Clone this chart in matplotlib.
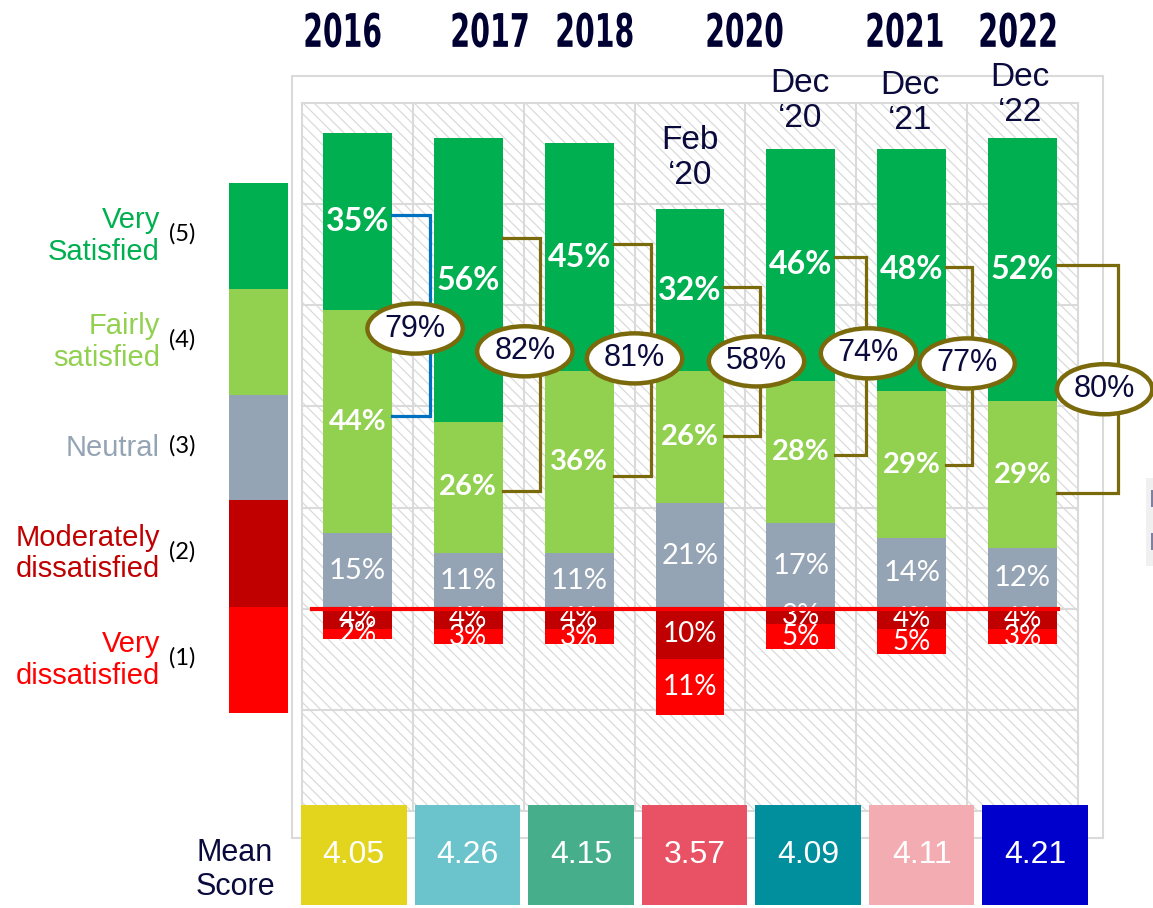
import matplotlib.pyplot as plt
from matplotlib.patches import Rectangle, Ellipse, PathPatch
from matplotlib.textpath import TextPath
from matplotlib.font_manager import FontProperties
from matplotlib.transforms import Affine2D

# columnas del grafico
periods = ['2016', '2017', '2018', 'Feb 20', 'Dec 20', 'Dec 21', 'Dec 22']
very_sat = [35, 56, 45, 32, 46, 48, 52]
fairly_sat = [44, 26, 36, 26, 28, 29, 29]
neutral = [15, 11, 11, 21, 17, 14, 12]
mod_dis = [4, 4, 4, 10, 3, 4, 4]
very_dis = [2, 3, 3, 11, 5, 5, 3]
top2 = [79, 82, 81, 58, 74, 77, 80]
mean_score = [4.05, 4.26, 4.15, 3.57, 4.09, 4.11, 4.21]

year_labels = ['2016', '2017', '2018', '2020', '2021', '2022']
sub_labels = ['Feb\n\u201820', 'Dec\n\u201820', 'Dec\n\u201821', 'Dec\n\u201822']
legend_labels = ['Very\nSatisfied', 'Fairly\nsatisfied', 'Neutral',
                 'Moderately\ndissatisfied', 'Very\ndissatisfied']
legend_codes = ['(5)', '(4)', '(3)', '(2)', '(1)']

# posiciones (pixeles) de textos y llaves, leidas a ojo
year_px = [343, 490, 595, 745, 905, 1018]
sub_px = [(690, 158), (800, 101), (910, 103), (1020, 95)]
brk_x = [0.655, 1.647, 2.648, 3.63, 4.59, 5.54, 6.86]
brk_top = [77.8, 73.3, 72.1, 63.6, 69.5, 67.5, 67.9]
brk_bot = [38.2, 23.2, 26.3, 34.1, 30.3, 28.5, 22.8]
ell_x = [0.52, 1.51, 2.50, 3.60, 4.61, 5.50, 6.74]
ell_y = [55.4, 50.9, 49.5, 48.9, 50.5, 48.5, 43.4]

c_vs = '#00B050'
c_fs = '#92D050'
c_ne = '#95A4B4'
c_md = '#C00000'
c_vd = '#FF0000'
olive = '#7A6A0C'
navy = '#0A0A3C'
mean_colors = ['#E3D41E', '#6BC3CB', '#47AE8B', '#E85264', '#018F9E', '#F4ACB3', '#0000CC']
grid_c = '#DADADA'

W, H = 1153, 908
def fx(px):
    return px / W
def fy(py):
    return 1 - py / H

plt.rcParams['hatch.linewidth'] = 0.9

fig = plt.figure(figsize=(W / 100, H / 100), dpi=100)

# caja exterior
fig.patches.append(Rectangle((fx(292), fy(838)), (1103 - 292) / W, (838 - 76) / H,
                             transform=fig.transFigure, fill=False,
                             edgecolor=grid_c, lw=1.5, zorder=0))

ax = fig.add_axes([fx(302), fy(811), (1078 - 302) / W, (811 - 103) / H], zorder=1)
ax.set_xlim(-0.5, 6.5)
ax.set_ylim(-40, 100)
ax.add_patch(Rectangle((-0.5, -40), 7, 140, facecolor='white', edgecolor=grid_c,
                       hatch='\\\\\\', lw=0, zorder=0))
for y in [-20, 0, 20, 40, 60, 80]:
    ax.axhline(y, color=grid_c, lw=1.5, zorder=1)
for xv in [0.5, 1.5, 2.5, 3.5, 4.5, 5.5]:
    ax.axvline(xv, color=grid_c, lw=1.5, zorder=1)
for s in ax.spines.values():
    s.set_color(grid_c)
    s.set_linewidth(1.5)
ax.set_xticks([])
ax.set_yticks([])

x = list(range(len(periods)))
bw = 0.62
neg_md = [-v for v in mod_dis]
neg_vd = [-v for v in very_dis]
base_fs = neutral
base_vs = [n + f for n, f in zip(neutral, fairly_sat)]

ax.bar(x, neutral, bw, color=c_ne, zorder=3)
ax.bar(x, fairly_sat, bw, bottom=base_fs, color=c_fs, zorder=3)
ax.bar(x, very_sat, bw, bottom=base_vs, color=c_vs, zorder=3)
ax.bar(x, neg_md, bw, color=c_md, zorder=3)
bars_vd = ax.bar(x, neg_vd, bw, bottom=neg_md, color=c_vd, zorder=3)

for i in x:
    ax.text(i, base_vs[i] + very_sat[i] / 2, f'{very_sat[i]}%', ha='center', va='center',
            color='white', fontsize=23, fontweight='bold', family='Lato', zorder=4)
    ax.text(i, base_fs[i] + fairly_sat[i] / 2, f'{fairly_sat[i]}%', ha='center', va='center',
            color='white', fontsize=21, fontweight='bold', family='Lato', zorder=4)
    ax.text(i, neutral[i] / 2, f'{neutral[i]}%', ha='center', va='center',
            color='white', fontsize=21, family='Lato', zorder=4)
    ax.text(i, -mod_dis[i] / 2, f'{mod_dis[i]}%', ha='center', va='center',
            color='white', fontsize=20, family='Lato', zorder=4)
    t = ax.text(i, -mod_dis[i] - very_dis[i] / 2, f'{very_dis[i]}%', ha='center', va='center',
                color='white', fontsize=20, family='Lato', zorder=4)
    t.set_clip_path(bars_vd[i])

# llaves del top-2 y elipses
for i in x:
    bc = '#0070C0' if i == 0 else olive
    ax.plot([i + bw / 2, brk_x[i], brk_x[i], i + bw / 2], [brk_top[i], brk_top[i], brk_bot[i], brk_bot[i]],
            color=bc, lw=2.3, zorder=5, clip_on=False, solid_joinstyle='miter')
    ax.add_patch(Ellipse((ell_x[i], ell_y[i]), 0.86, 9.9, facecolor='white', edgecolor=olive,
                         lw=3.2, zorder=6, clip_on=False))
    ax.text(ell_x[i], ell_y[i], f'{top2[i]}%', ha='center', va='center', color=navy,
            fontsize=22, family='Liberation Sans', zorder=7, clip_on=False)

ax.plot([-0.41, 6.32], [0, 0], color='#FF0000', lw=3, zorder=8, clip_on=False)

# anios arriba: letra condensada (se comprime el trazo del texto)
fp = FontProperties(family='DejaVu Sans', weight='bold')
for lab, px in zip(year_labels, year_px):
    tp = TextPath((0, 0), lab, size=40, prop=fp)
    ext = tp.get_extents()
    sx = 75 / ext.width
    sy = 35 / ext.height
    tr = Affine2D().translate(-ext.x0 - ext.width / 2, -ext.y0 - ext.height / 2) \
        .scale(sx, sy).translate(px, H - 30)
    fig.patches.append(PathPatch(tr.transform_path(tp), facecolor='#000033', lw=0,
                                 transform=None))
for lab, (px, py) in zip(sub_labels, sub_px):
    fig.text(fx(px), fy(py), lab, ha='center', va='center', color=navy,
             fontsize=24, family='Liberation Sans', linespacing=1.2)

# leyenda de la izquierda
leg_colors = [c_vs, c_fs, c_ne, c_md, c_vd]
tops = [183, 289, 395, 500, 607, 713]
for k in range(5):
    fig.patches.append(Rectangle((fx(229), fy(tops[k + 1])), (288 - 229) / W,
                                 (tops[k + 1] - tops[k]) / H, transform=fig.transFigure,
                                 facecolor=leg_colors[k], lw=0))
    yc = (tops[k] + tops[k + 1]) / 2
    fig.text(fx(160), fy(yc), legend_labels[k], ha='right', va='center', color=leg_colors[k],
             fontsize=21, family='Liberation Sans', linespacing=1.15)
    fig.text(fx(169), fy(yc - 2), legend_codes[k], ha='left', va='center', color='black',
             fontsize=17, family='Lato')

# trozo de leyenda cortado a la derecha
fig.patches.append(Rectangle((fx(1146), fy(566)), 7 / W, 88 / H, transform=fig.transFigure,
                             facecolor='#F0F0F0', lw=0))
for py in [490, 533]:
    fig.patches.append(Rectangle((fx(1151), fy(py + 17)), 2 / W, 17 / H, transform=fig.transFigure,
                                 facecolor='#7F7F9F', lw=0))

# puntaje medio
axm = fig.add_axes([fx(297), fy(905), (1092 - 297) / W, 100 / H], zorder=3)
axm.set_xlim(-0.5, 6.5)
axm.set_ylim(0, 1)
axm.bar(x, [1] * len(x), 0.93, color=mean_colors)
for i in x:
    axm.text(i, 0.5, f'{mean_score[i]:.2f}', ha='center', va='center', color='white',
             fontsize=23, family='Liberation Sans')
axm.axis('off')
fig.text(fx(235), fy(870), 'Mean\nScore', ha='center', va='center', color=navy,
         fontsize=22, family='Liberation Sans', linespacing=1.15)

plt.savefig('out.png', dpi=100)
